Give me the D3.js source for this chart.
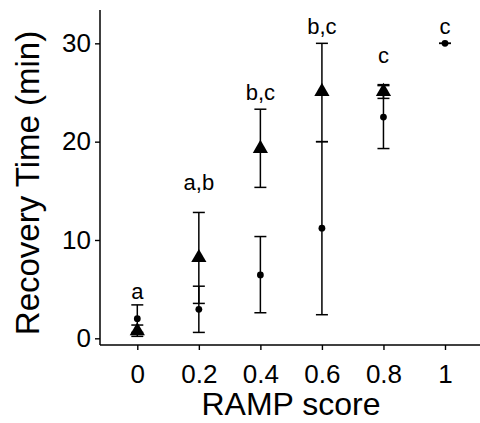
<!DOCTYPE html>
<html>
<head>
<meta charset="utf-8">
<script src="https://cdn.jsdelivr.net/npm/d3@7"></script>
<style>
  body { margin: 0; background: #fff; }
  text { font-family: "Liberation Sans", Arial, sans-serif; fill: #000; }
</style>
</head>
<body>
<div id="chart"></div>
<script>
const categories = ["0", "0.2", "0.4", "0.6", "0.8", "1"];

// triangle series
const triValue = [0.75, 8.2, 19.3, 25.1, 25.1, null];
const triLow = [0.2, 3.55, 15.35, 20.0, 24.4, null];
const triHigh = [1.35, 12.8, 23.3, 30.0, 25.8, null];

// dot series
const dotValue = [2.0, 2.95, 6.45, 11.2, 22.5, 30.0];
const dotLow = [0.6, 0.6, 2.6, 2.4, 19.3, 30.0];
const dotHigh = [3.4, 5.3, 10.35, 20.0, 25.7, 30.0];

// group letters and where they sit (data units)
const letters = ["a", "a,b", "b,c", "b,c", "c", "c"];
const letterY = [4.0, 15.1, 24.2, 30.9, 28.0, 30.9];

const yTicks = [0, 10, 20, 30];

const width = 480, height = 423;

const svg = d3.select("#chart").append("svg")
    .attr("width", width)
    .attr("height", height);

const x = d3.scalePoint().domain(categories).range([137.3, 445]);
const y = d3.scaleLinear().domain([-0.68, 33.39]).range([345, 10]);

// axes
const yAxis = svg.append("g")
    .attr("transform", "translate(100,0)")
    .call(d3.axisLeft(y).tickValues(yTicks).tickSize(5).tickPadding(4).tickFormat(d3.format("d")));
const xAxis = svg.append("g")
    .attr("transform", "translate(0,345)")
    .call(d3.axisBottom(x).tickSize(5).tickPadding(14));

[yAxis, xAxis].forEach(g => {
    g.select(".domain").remove();
    g.selectAll(".tick line").attr("stroke", "#000").attr("stroke-width", 1.4);
    g.selectAll(".tick text").style("font-size", "26px").attr("fill", "#000");
});
xAxis.selectAll(".tick text").attr("dy", "0.72em");

svg.append("line")
    .attr("x1", 100).attr("x2", 100).attr("y1", 10).attr("y2", 345)
    .attr("stroke", "#000").attr("stroke-width", 1.5);
svg.append("line")
    .attr("x1", 100).attr("x2", 480).attr("y1", 345).attr("y2", 345)
    .attr("stroke", "#000").attr("stroke-width", 1.5);

svg.append("text")
    .attr("transform", "translate(39,183) rotate(-90)")
    .attr("text-anchor", "middle")
    .style("font-size", "33px")
    .text("Recovery Time (min)");
svg.append("text")
    .attr("x", 291).attr("y", 415)
    .attr("text-anchor", "middle")
    .style("font-size", "32px")
    .text("RAMP score");

// error bars
function errorBars(low, high) {
    const rows = categories.map((c, i) => ({ c, lo: low[i], hi: high[i] })).filter(d => d.lo != null);
    const g = svg.append("g").attr("stroke", "#000").attr("stroke-width", 1.5);
    g.selectAll(".v").data(rows).enter().append("line")
        .attr("x1", d => x(d.c)).attr("x2", d => x(d.c))
        .attr("y1", d => y(d.lo)).attr("y2", d => y(d.hi));
    g.selectAll(".lo").data(rows).enter().append("line")
        .attr("x1", d => x(d.c) - 6).attr("x2", d => x(d.c) + 6)
        .attr("y1", d => y(d.lo)).attr("y2", d => y(d.lo));
    g.selectAll(".hi").data(rows).enter().append("line")
        .attr("x1", d => x(d.c) - 6).attr("x2", d => x(d.c) + 6)
        .attr("y1", d => y(d.hi)).attr("y2", d => y(d.hi));
}
errorBars(dotLow, dotHigh);
errorBars(triLow, triHigh);

// points
svg.append("g").selectAll("circle")
    .data(categories.map((c, i) => ({ c, v: dotValue[i] })))
    .enter().append("circle")
    .attr("cx", d => x(d.c))
    .attr("cy", d => y(d.v))
    .attr("r", 3.4)
    .attr("fill", "#000");

const tri = d3.symbol().type(d3.symbolTriangle).size(100);
svg.append("g").selectAll("path")
    .data(categories.map((c, i) => ({ c, v: triValue[i] })).filter(d => d.v != null))
    .enter().append("path")
    .attr("d", tri)
    .attr("transform", d => "translate(" + x(d.c) + "," + y(d.v) + ")")
    .attr("fill", "#000");

// letters
svg.append("g").selectAll("text")
    .data(categories.map((c, i) => ({ c, t: letters[i], v: letterY[i] })))
    .enter().append("text")
    .attr("x", d => x(d.c))
    .attr("y", d => y(d.v))
    .attr("text-anchor", "middle")
    .style("font-size", "22px")
    .text(d => d.t);
</script>
</body>
</html>
